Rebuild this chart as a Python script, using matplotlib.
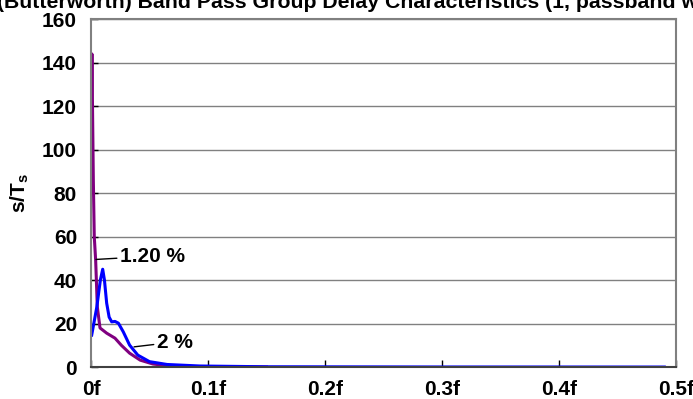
import matplotlib.pyplot as plt

plt.rcParams['font.family'] = ['Liberation Sans', 'DejaVu Sans']
plt.rcParams['font.weight'] = 'bold'
plt.rcParams['mathtext.fontset'] = 'custom'
plt.rcParams['mathtext.rm'] = 'Liberation Sans:bold'
plt.rcParams['mathtext.bf'] = 'Liberation Sans:bold'

# Group delay for the 1.20 % bandwidth (purple)
purple_x = [0, 0.0008, 0.0015, 0.002, 0.0028, 0.004, 0.0054, 0.0077, 0.0134,
            0.0205, 0.026, 0.033, 0.042, 0.053, 0.068, 0.09, 0.12, 0.15]
purple_y = [102, 144, 110, 86, 60, 49, 27.7, 18, 15.6,
            13.3, 10, 6.4, 3.2, 1.4, 0.5, 0.15, 0.05, 0.02]

# Group delay for the 2 % bandwidth (blue)
blue_x = [0.0006, 0.005, 0.008, 0.010, 0.0115, 0.0134, 0.0155, 0.0177, 0.0205,
          0.0234, 0.0276, 0.033, 0.040, 0.050, 0.065, 0.093, 0.15, 0.3, 0.49]
blue_y = [14.7, 27.7, 40, 45, 40, 29.4, 23, 20.8, 21,
          20.2, 16.2, 10.1, 5.5, 2.5, 1.2, 0.5, 0.15, 0.05, 0.02]

x_ticks = [0, 0.1, 0.2, 0.3, 0.4, 0.5]
x_labels = ['0f', '0.1f', '0.2f', '0.3f', '0.4f', '0.5f']
y_ticks = [0, 20, 40, 60, 80, 100, 120, 140, 160]

fig = plt.figure(figsize=(6.93, 3.99), dpi=100)
ax = fig.add_axes([0.1313, 0.080, 0.8442, 0.872])

ax.plot(purple_x, purple_y, color='#800080', lw=2.2)
ax.plot(blue_x, blue_y, color='#0000ff', lw=2.2)

ax.set_xlim(0, 0.5)
ax.set_ylim(0, 160)
ax.set_xticks(x_ticks)
ax.set_xticklabels(x_labels)
ax.set_yticks(y_ticks)
ax.yaxis.grid(True, color='#808080', lw=1)
ax.set_axisbelow(True)
ax.tick_params(direction='in', length=5, width=1, labelsize=15, color='black')
ax.tick_params(axis='y', pad=10)
ax.tick_params(axis='x', pad=9)
for s in ax.spines.values():
    s.set_color('#808080')
    s.set_linewidth(1.5)
ax.spines['bottom'].set_color('#404040')

ax.set_ylabel(r's/T$_\mathregular{s}$', fontsize=15, fontweight='bold')
ax.yaxis.set_label_coords(-0.103, 0.5)

# Leader labels
ax.annotate('1.20 %', xy=(0.0043, 49.5), xytext=(0.0245, 51),
            fontsize=15, fontweight='bold', va='center',
            arrowprops=dict(arrowstyle='-', color='black', lw=1, shrinkB=0, shrinkA=0))
ax.annotate('2 %', xy=(0.0368, 9.3), xytext=(0.056, 11.5),
            fontsize=15, fontweight='bold', va='center',
            arrowprops=dict(arrowstyle='-', color='black', lw=1, shrinkB=0, shrinkA=0))

fig.text(-0.004, 0.98,
         '(Butterworth) Band Pass Group Delay Characteristics (1, passband width)',
         fontsize=15.3, fontweight='bold', ha='left', va='baseline')

plt.savefig('out.png', dpi=100)
